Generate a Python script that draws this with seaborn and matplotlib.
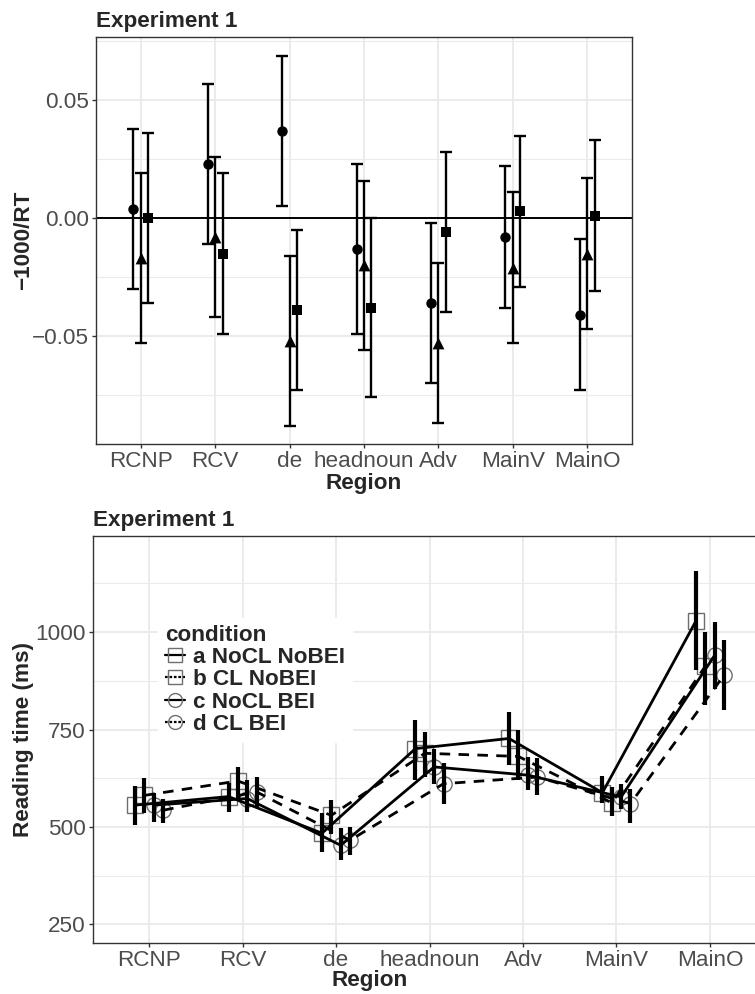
import numpy as np
import pandas as pd
import matplotlib
matplotlib.use("Agg")
import matplotlib.pyplot as plt
import seaborn as sns
from matplotlib.lines import Line2D

# ---------------- data ----------------
regions = ["RCNP", "RCV", "de", "headnoun", "Adv", "MainV", "MainO"]

# top panel (three contrasts: circle, triangle, square)
top_mean_circle = [0.004, 0.023, 0.037, -0.013, -0.036, -0.008, -0.041]
top_lo_circle = [-0.030, -0.011, 0.005, -0.049, -0.070, -0.038, -0.073]
top_hi_circle = [0.038, 0.057, 0.069, 0.023, -0.002, 0.022, -0.009]
top_mean_tri = [-0.017, -0.008, -0.052, -0.020, -0.053, -0.021, -0.015]
top_lo_tri = [-0.053, -0.042, -0.088, -0.056, -0.087, -0.053, -0.047]
top_hi_tri = [0.019, 0.026, -0.016, 0.016, -0.019, 0.011, 0.017]
top_mean_sq = [0.000, -0.015, -0.039, -0.038, -0.006, 0.003, 0.001]
top_lo_sq = [-0.036, -0.049, -0.073, -0.076, -0.040, -0.029, -0.031]
top_hi_sq = [0.036, 0.019, -0.005, 0.000, 0.028, 0.035, 0.033]

# bottom panel (four conditions)
conditions = ["a NoCL NoBEI", "b CL NoBEI", "c NoCL BEI", "d CL BEI"]
rt_a = [556, 578, 484, 701, 727, 588, 1028]
lo_a = [504, 538, 436, 620, 658, 561, 902]
hi_a = [605, 612, 535, 774, 795, 630, 1156]
rt_b = [581, 618, 530, 689, 681, 562, 912]
lo_b = [535, 568, 482, 628, 620, 528, 812]
hi_b = [626, 653, 568, 744, 748, 603, 1000]
rt_c = [556, 573, 453, 654, 633, 577, 940]
lo_c = [513, 538, 415, 610, 594, 546, 855]
hi_c = [586, 620, 497, 700, 680, 610, 1026]
rt_d = [543, 590, 466, 611, 628, 560, 889]
lo_d = [509, 551, 427, 560, 581, 511, 799]
hi_d = [573, 628, 500, 665, 676, 597, 979]

# ---------------- style ----------------
sns.set_theme(style="white")
plt.rcParams["font.family"] = ["Liberation Sans", "DejaVu Sans"]
FS = 16.2
GRID = "#EBEBEB"
TICKC = "#4D4D4D"
FRAME = "#333333"

fig = plt.figure(figsize=(7.55, 9.94), dpi=100)
W, H = 755.0, 994.0
ax1 = fig.add_axes([96 / W, 1 - 444 / H, (632 - 96) / W, (444 - 37) / H])
ax2 = fig.add_axes([93 / W, 1 - 943 / H, (766 - 93) / W, (943 - 535.5) / H])


def style_axes(ax):
    ax.set_facecolor("white")
    for s in ax.spines.values():
        s.set_color(FRAME)
        s.set_linewidth(1.0)
        s.set_visible(True)
    ax.tick_params(axis="both", which="major", length=3, width=1, color=FRAME,
                   labelcolor=TICKC, labelsize=FS, pad=2, left=True, bottom=True)
    ax.tick_params(axis="both", which="minor", length=0)
    ax.grid(True, which="major", color=GRID, linewidth=1.4, zorder=0)
    ax.grid(True, which="minor", axis="y", color=GRID, linewidth=0.8, zorder=0)
    ax.grid(False, which="minor", axis="x")
    ax.set_axisbelow(True)


x = np.arange(len(regions))

# ---------------- top panel ----------------
top_sets = [
    (top_mean_circle, top_lo_circle, top_hi_circle, "o", -0.1, 7.5),
    (top_mean_tri, top_lo_tri, top_hi_tri, "^", 0.0, 8.5),
    (top_mean_sq, top_lo_sq, top_hi_sq, "s", 0.1, 7.0),
]
ax1.axhline(0, color="black", linewidth=1.4, zorder=1)
for mean, lo, hi, mk, off, ms in top_sets:
    xp = x + off
    mean = np.array(mean)
    yerr = np.vstack([mean - np.array(lo), np.array(hi) - mean])
    ax1.errorbar(xp, mean, yerr=yerr, fmt="none", ecolor="black",
                 elinewidth=1.7, capsize=4.6, capthick=1.7, zorder=3)
    sns.scatterplot(x=xp, y=mean, marker=mk, s=ms ** 2, color="black",
                    edgecolor="black", linewidth=0, ax=ax1, zorder=4)

ax1.set_xlim(-0.6, 6.6)
ax1.set_xticks(x)
ax1.set_xticklabels(regions)
ax1.set_yticks([-0.05, 0.0, 0.05])
ax1.set_yticklabels(["\u22120.05", "0.00", "0.05"])
ax1.set_yticks([-0.075, -0.025, 0.025, 0.075], minor=True)
style_axes(ax1)
ax1.set_ylim(-0.0958, 0.0769)
ax1.set_xlabel("Region", fontsize=FS, fontweight="bold", labelpad=1)
ax1.set_ylabel("\u22121000/RT", fontsize=FS, fontweight="bold")
ax1.yaxis.set_label_coords((34 - 96) / (632 - 96), 0.5)
ax1.set_title("Experiment 1", loc="left", fontsize=FS, fontweight="bold", pad=7)

# ---------------- bottom panel ----------------
bottom_sets = [
    (conditions[0], rt_a, lo_a, hi_a, "s", -0.15, ""),
    (conditions[1], rt_b, lo_b, hi_b, "s", -0.05, (3.8, 3.0)),
    (conditions[2], rt_c, lo_c, hi_c, "o", 0.05, ""),
    (conditions[3], rt_d, lo_d, hi_d, "o", 0.15, (3.8, 3.0)),
]
rows = []
for cond, rt, lo, hi, mk, off, dash in bottom_sets:
    for i in range(len(regions)):
        rows.append({"condition": cond, "xpos": x[i] + off, "rt": rt[i],
                     "lo": lo[i], "hi": hi[i]})
df = pd.DataFrame(rows)

for cond, rt, lo, hi, mk, off, dash in bottom_sets:
    xp = x + off
    ax2.plot(xp, rt, linestyle="none", marker=mk, markersize=11,
             markerfacecolor="none", markeredgecolor="#6E6E6E",
             markeredgewidth=1.0, zorder=2)
    ax2.vlines(xp, lo, hi, color="black", linewidth=3.0, zorder=3)

sns.lineplot(data=df, x="xpos", y="rt", style="condition",
             dashes={conditions[0]: "", conditions[1]: (3.8, 3.0),
                     conditions[2]: "", conditions[3]: (3.8, 3.0)},
             color="black", linewidth=2.0, estimator=None, sort=False,
             legend=False, ax=ax2, zorder=4)

ax2.set_xlim(-0.6, 6.6)
ax2.set_xticks(x)
ax2.set_xticklabels(regions)
ax2.set_yticks([250, 500, 750, 1000])
ax2.set_yticks([375, 625, 875, 1125], minor=True)
style_axes(ax2)
ax2.set_ylim(202.5, 1247.5)
ax2.set_xlabel("Region", fontsize=FS, fontweight="bold", labelpad=1)
ax2.xaxis.set_label_coords((370 - 93) / (766 - 93), -0.066)
ax2.set_ylabel("Reading time (ms)", fontsize=FS, fontweight="bold")
ax2.yaxis.set_label_coords((34 - 93) / (766 - 93), 0.5)
ax2.set_title("Experiment 1", loc="left", fontsize=FS, fontweight="bold", pad=7)

handles = []
for cond, rt, lo, hi, mk, off, dash in bottom_sets:
    h = Line2D([0], [0], color="black", linewidth=1.6,
               linestyle="-" if dash == "" else (0, (1.2, 0.8)),
               marker=mk, markersize=10, markerfacecolor="none",
               markeredgecolor="#6E6E6E", markeredgewidth=1.0)
    handles.append(h)
leg = ax2.legend(handles, conditions, title="condition", loc="upper left",
                 bbox_to_anchor=(0.0966, 0.798), borderaxespad=0,
                 frameon=True, fancybox=False, framealpha=1,
                 facecolor="white", edgecolor="white", fontsize=FS,
                 title_fontsize=FS, handlelength=0.9, handletextpad=0.35,
                 labelspacing=0.06, borderpad=0.3, alignment="left")
for t in leg.get_texts():
    t.set_fontweight("bold")
leg.get_title().set_fontweight("bold")

fig.savefig("out.png", dpi=100)
